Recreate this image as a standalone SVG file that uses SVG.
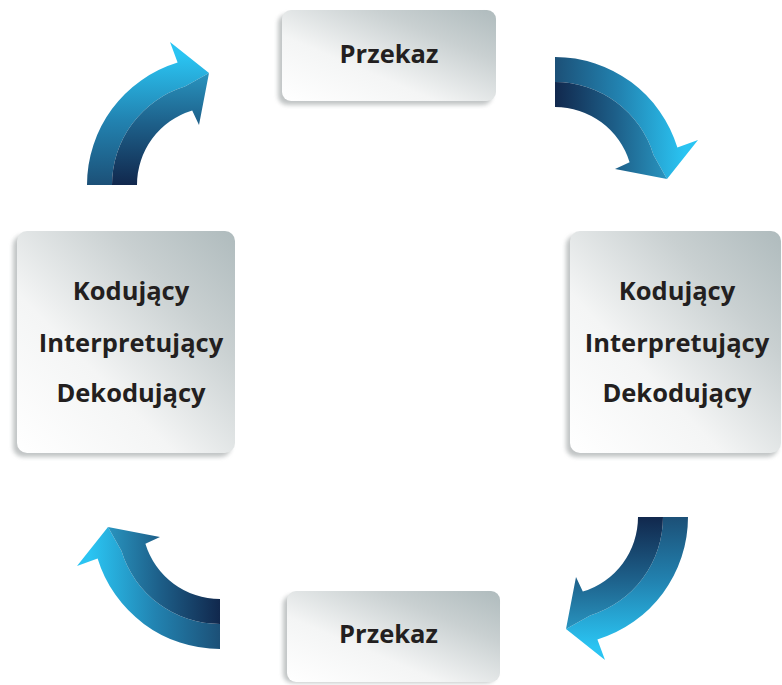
<svg xmlns="http://www.w3.org/2000/svg" width="782" height="685" viewBox="0 0 782 685">
  <defs>
    <style>
      .card { fill: url(#cardFill); }
      .shadow { fill: #8f9596; opacity: 0.55; filter: url(#soft); }
      .label { font-family: "Open Sans", "Noto Sans", "DejaVu Sans", sans-serif; font-weight: 700; font-size: 25.5px; fill: #231f20; text-anchor: middle; }
    </style>
    <linearGradient id="cardFill" x1="0" y1="1" x2="1" y2="0">
      <stop offset="0" stop-color="#ffffff"/>
      <stop offset="0.36" stop-color="#f4f5f5"/>
      <stop offset="0.72" stop-color="#c9d0d1"/>
      <stop offset="1" stop-color="#afbbbd"/>
    </linearGradient>
    <filter id="soft" x="-10%" y="-10%" width="120%" height="120%">
      <feGaussianBlur stdDeviation="2"/>
    </filter>
    <!-- arrow band gradients, base (dark) to head (light) -->
    <linearGradient id="outerBand" gradientUnits="userSpaceOnUse" x1="0" y1="185" x2="0" y2="55">
      <stop offset="0" stop-color="#1c5077"/>
      <stop offset="0.5" stop-color="#2283b1"/>
      <stop offset="1" stop-color="#2ac4f2"/>
    </linearGradient>
    <linearGradient id="innerBand" gradientUnits="userSpaceOnUse" x1="0" y1="185" x2="0" y2="75">
      <stop offset="0" stop-color="#11284d"/>
      <stop offset="0.55" stop-color="#1d5f89"/>
      <stop offset="1" stop-color="#2892bd"/>
    </linearGradient>
    <!-- one curved arrow, arc centred at (215,185) -->
    <g id="arrow">
      <path fill="url(#outerBand)" d="M87,185 A128,128 0 0 1 177.6,62.6 L170,42 L209,73 L184.9,86.5 A103,103 0 0 0 112,185 Z"/>
      <path fill="url(#innerBand)" d="M112,185 A103,103 0 0 1 184.9,86.5 L209,73 L199,125 L192.2,110.4 A78,78 0 0 0 137,185 Z"/>
    </g>
  </defs>

  <g id="connectors">
    <use href="#arrow"/>
    <use href="#arrow" transform="rotate(90 385 355)"/>
    <use href="#arrow" transform="rotate(180 387.5 351)"/>
    <use href="#arrow" transform="rotate(-90 385.5 350.5)"/>
  </g>

  <g id="przekaz-top">
    <rect class="shadow" x="278" y="14" width="214" height="91" rx="9"/>
    <rect class="card" x="282" y="10" width="214" height="91" rx="9"/>
    <text class="label" x="389" y="63">Przekaz</text>
  </g>

  <g id="uczestnik-left">
    <rect class="shadow" x="13" y="235" width="218" height="222" rx="10"/>
    <rect class="card" x="17" y="231" width="218" height="222" rx="10"/>
    <text class="label" x="131" y="300">Kodujący</text>
    <text class="label" x="131" y="352">Interpretujący</text>
    <text class="label" x="131" y="402">Dekodujący</text>
  </g>

  <g id="uczestnik-right">
    <rect class="shadow" x="566" y="235" width="212" height="222" rx="10"/>
    <rect class="card" x="570" y="231" width="211" height="222" rx="10"/>
    <text class="label" x="677" y="300">Kodujący</text>
    <text class="label" x="677" y="352">Interpretujący</text>
    <text class="label" x="677" y="402">Dekodujący</text>
  </g>

  <g id="przekaz-bottom">
    <rect class="shadow" x="283" y="595" width="213" height="88" rx="9"/>
    <rect class="card" x="287" y="591" width="213" height="91" rx="9"/>
    <text class="label" x="388.5" y="643">Przekaz</text>
  </g>
</svg>
